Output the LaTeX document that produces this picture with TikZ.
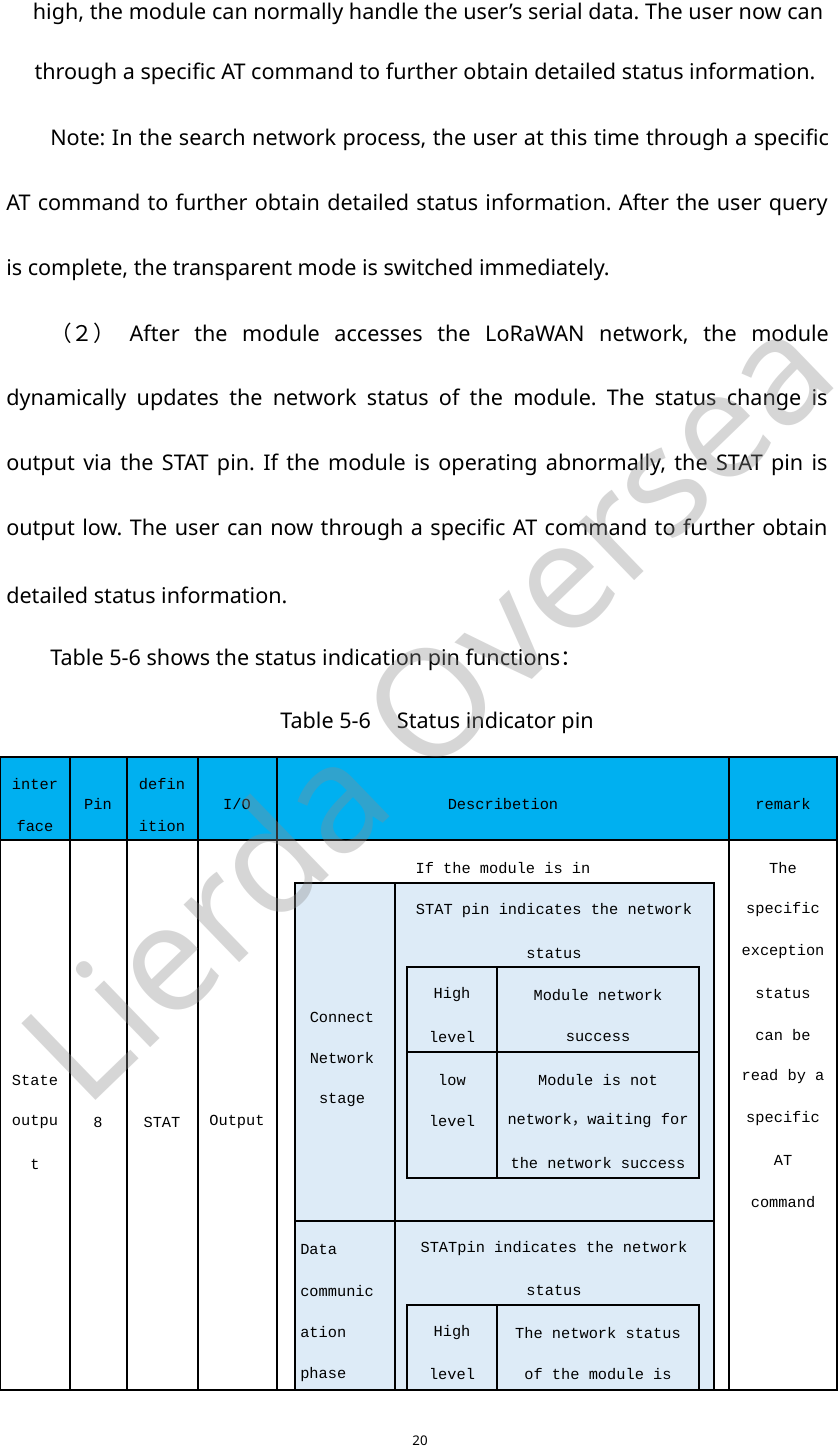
\documentclass[tikz,border=0pt]{standalone}
\usepackage{fontspec}
\setmainfont{Noto Sans}
\newfontfamily\cjk{Noto Sans CJK SC}
\newfontfamily\tmono{Liberation Mono}
\definecolor{hdr}{RGB}{0,176,240}
\definecolor{lb}{RGB}{221,235,247}
\frenchspacing
\begin{document}
\begin{tikzpicture}[x=0.75pt,y=-0.75pt,
  body/.style={inner sep=0pt,font=\fontsize{16.2}{18}\selectfont},
  tt/.style={inner sep=0pt,font=\tmono\fontsize{11.5}{14}\selectfont},
  grid/.style={draw=black,line width=0.8pt}]
\useasboundingbox (0,0) rectangle (838,1448);
\fill[white] (0,0) rectangle (838,1448);
% body text
\node[body] (l1) at (428,14) {high, the module can normally handle the user{\char"27}s serial data. The user now can};
\node[body] (l2) at (425,74) {through a specific AT command to further obtain detailed status information.};
\node[body,anchor=west] (l3) at (50,140) {\makebox[584pt][s]{Note: In the search network process, the user at this time through a specific}};
\node[body,anchor=west] (l4) at (6,205) {\makebox[616pt][s]{AT command to further obtain detailed status information. After the user query}};
\node[body,anchor=west] (l5) at (6,270) {is complete, the transparent mode is switched immediately.};
\node[body,anchor=west] (l6) at (50,334) {\makebox[584pt][s]{{\cjk （２）} After the module accesses the LoRaWAN network, the module}};
\node[body,anchor=west] (l7) at (6,400) {\makebox[616pt][s]{dynamically updates the network status of the module. The status change is}};
\node[body,anchor=west] (l8) at (6,465) {\makebox[616pt][s]{output via the STAT pin. If the module is operating abnormally, the STAT pin is}};
\node[body,anchor=west] (l9) at (6,530) {\makebox[616pt][s]{output low. The user can now through a specific AT command to further obtain}};
\node[body,anchor=west] (l10) at (6,595) {detailed status information.};
\node[body,anchor=west] (l11) at (50,660) {Table 5-6 shows the status indication pin functions{\cjk ：}};
\node[body] (l12) at (437,723) {Table 5-6\hspace{1.2em}Status indicator pin};
\node[inner sep=0pt,font=\fontsize{10}{12}\selectfont] (pg) at (420,1441) {20};
% table
\fill[hdr] (0,757) rectangle (837,840);
\draw[grid] (0,757) rectangle (837,1390);
\draw[grid] (0,840) -- (837,840);
\foreach \x in {70,127,198,277,729} \draw[grid] (\x,757) -- (\x,1390);
\node[tt] (h1a) at (35,784) {inter};
\node[tt] (h1b) at (35,826) {face};
\node[tt] (h2) at (98,804) {Pin};
\node[tt] (h3a) at (162,784) {defin};
\node[tt] (h3b) at (162,826) {ition};
\node[tt] (h4) at (237,804) {I/O};
\node[tt] (h5) at (503,804) {Describetion};
\node[tt] (h6) at (783,804) {remark};
\node[tt] (s1) at (35,1080) {State};
\node[tt] (s2) at (35,1122) {outpu};
\node[tt] (s3) at (35,1164) {t};
\node[tt] (p8) at (98,1122) {8};
\node[tt] (st) at (162,1122) {STAT};
\node[tt] (out) at (237,1122) {Output};
\foreach \t [count=\i from 0] in {The,specific,exception,status,can be,read by a,specific,AT,command}
  \node[tt] (r\i) at (783,868+41.75*\i) {\t};
\node[tt] (d0) at (503,868) {If the module is in};
% inner table
\fill[lb] (295,883) rectangle (714,1390);
\draw[grid] (295,883) rectangle (714,1390);
\draw[grid] (295,1221) -- (714,1221);
\draw[grid] (395,883) -- (395,1390);
\node[tt] (c1) at (342,1017) {Connect};
\node[tt] (c2) at (342,1058) {Network};
\node[tt] (c3) at (342,1100) {stage};
\node[tt] (i1) at (554,911) {STAT pin indicates the network};
\node[tt] (i2) at (554,953) {status};
\draw[grid] (407,967) rectangle (699,1178);
\draw[grid] (407,1052) -- (699,1052);
\draw[grid] (497,967) -- (497,1178);
\node[tt] (a1) at (452,995) {High};
\node[tt] (a2) at (452,1037) {level};
\node[tt] (a3) at (598,995) {Module network};
\node[tt] (a4) at (598,1037) {success};
\node[tt] (b1) at (452,1080) {low};
\node[tt] (b2) at (452,1121) {level};
\node[tt] (b3) at (598,1080) {Module is not};
\node[tt] (b4) at (598,1121) {network{\cjk ，}waiting for};
\node[tt] (b5) at (598,1163) {the network success};
\foreach \t [count=\i from 0] in {Data,communic,ation,phase}
  \node[tt,anchor=west] (e\i) at (300,1249+41.7*\i) {\t};
\node[tt] (j1) at (554,1249) {STATpin indicates the network};
\node[tt] (j2) at (554,1290) {status};
\draw[grid] (407,1390) -- (407,1305) -- (699,1305) -- (699,1390);
\draw[grid] (497,1305) -- (497,1390);
\node[tt] (k1) at (452,1333) {High};
\node[tt] (k2) at (452,1374) {level};
\node[tt] (k3) at (598,1333) {The network status};
\node[tt] (k4) at (598,1374) {of the module is};
% watermark
\node[rotate=44,text=black!45,opacity=0.35,inner sep=0pt,font=\fontsize{112}{114}\selectfont\bfseries] (wm) at (425,705) {Lierda Oversea};
\end{tikzpicture}
\end{document}
